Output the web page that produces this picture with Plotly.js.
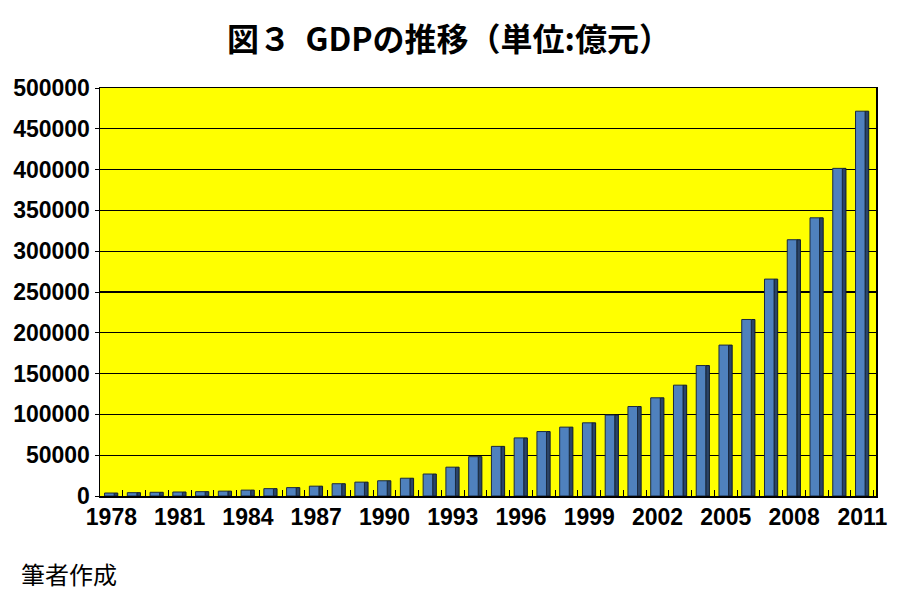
<!DOCTYPE html>
<html>
<head>
<meta charset="utf-8">
<script src="https://cdn.plot.ly/plotly-3.0.1.min.js"></script>
<style>html,body{margin:0;padding:0;background:#fff;}#chart{width:898px;height:600px;}</style>
</head>
<body>
<div id="chart"></div>
<script>
const years = [1978,1979,1980,1981,1982,1983,1984,1985,1986,1987,1988,1989,1990,1991,1992,1993,1994,1995,1996,1997,1998,1999,2000,2001,2002,2003,2004,2005,2006,2007,2008,2009,2010,2011];
const gdp = [3645,4063,4546,4892,5323,5963,7208,9016,10275,12059,15043,16992,18668,21781,26923,35334,48198,60794,71177,78973,84402,89677,99215,109655,120333,135823,159878,184937,216314,265810,314045,340903,401513,471564];
const tickYears = [1978,1981,1984,1987,1990,1993,1996,1999,2002,2005,2008,2011];
const yTicks = [0,50000,100000,150000,200000,250000,300000,350000,400000,450000,500000];

const numFont = {family: 'Liberation Sans, Arial, sans-serif', size: 23, color: '#000', weight: 700};

const side = {
  type: 'bar', x: years, y: gdp, width: 0.16, offset: 0.12,
  marker: {color: '#2a4468', line: {color: '#0f1b2e', width: 1}},
  hoverinfo: 'skip', showlegend: false
};
const front = {
  type: 'bar', x: years, y: gdp, width: 0.42, offset: -0.3,
  marker: {color: '#4f81bd', line: {color: '#1a2a40', width: 1}},
  showlegend: false
};

const layout = {
  width: 898, height: 600,
  margin: {l: 100, r: 22, t: 88, b: 104},
  paper_bgcolor: '#ffffff', plot_bgcolor: '#ffff00',
  barmode: 'overlay',
  title: {text: '図３  GDPの推移（単位:億元）', x: 0.5, xanchor: 'center', y: 0.933, yanchor: 'middle',
          font: {family: 'Noto Sans CJK JP, sans-serif', size: 32, color: '#000', weight: 700}},
  xaxis: {
    range: [1977.5, 2011.6], tickmode: 'array', tickvals: tickYears, ticktext: tickYears.map(String),
    tickfont: numFont, showgrid: false, zeroline: false, showline: true, linecolor: '#000', linewidth: 1.5,
    mirror: true, ticks: '', ticklen: 0,
    minor: {tickvals: years.map(function (y) { return y + 0.5; }), ticks: 'inside', ticklen: 6, tickcolor: '#000', tickwidth: 1, showgrid: false}
  },
  yaxis: {
    range: [0, 500000], tickmode: 'array', tickvals: yTicks, ticktext: yTicks.map(String),
    tickfont: numFont, showgrid: true, gridcolor: '#000', gridwidth: 1.3, zeroline: false,
    showline: true, linecolor: '#000', linewidth: 1.5, mirror: true, ticks: 'outside', ticklen: 4, tickcolor: '#000'
  },
  annotations: [{
    text: '筆者作成', xref: 'paper', yref: 'paper', x: -0.105, y: -0.19, xanchor: 'left', yanchor: 'middle',
    showarrow: false, font: {family: 'Noto Sans CJK JP, sans-serif', size: 24, color: '#000'}
  }]
};
Plotly.newPlot('chart', [side, front], layout, {displayModeBar: false, staticPlot: true});
</script>
</body>
</html>
